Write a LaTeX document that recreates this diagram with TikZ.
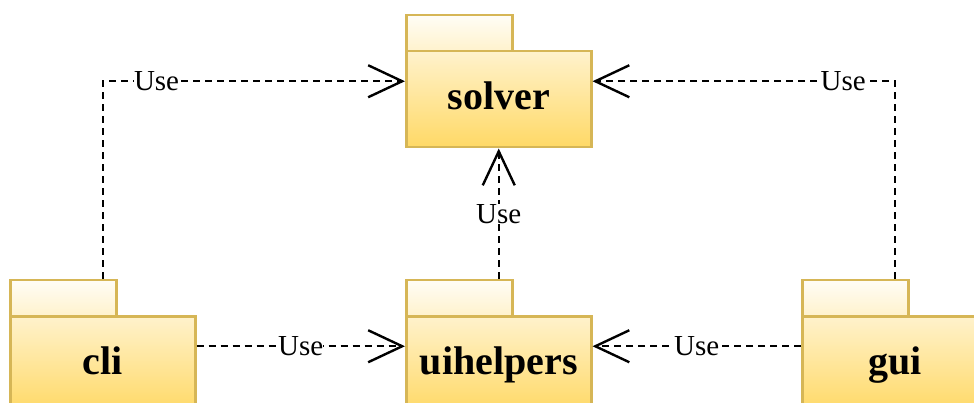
\documentclass[tikz,border=0pt]{standalone}
\usepackage{fontspec}
\setmainfont{Liberation Serif}
\usetikzlibrary{arrows.meta}
\definecolor{pkgstroke}{HTML}{D6B656}
\definecolor{pkgtop}{HTML}{FFF2CC}
\definecolor{pkgbot}{HTML}{FFD966}
\definecolor{tabtop}{HTML}{FFFDF6}
\begin{document}
\begin{tikzpicture}[x=1pt,y=-1pt,
  pkgtab/.style={draw=pkgstroke, line width=2.5pt, top color=tabtop, bottom color=pkgtop,
    minimum width=106pt, minimum height=36pt, inner sep=0pt, anchor=north west},
  pkgbody/.style={draw=pkgstroke, line width=2.5pt, top color=pkgtop, bottom color=pkgbot,
    minimum height=96pt, inner sep=0pt, anchor=north west,
    text height=30pt, text depth=10pt,
    font=\fontsize{40pt}{42pt}\selectfont\bfseries},
  uses/.style={line width=2.4pt, dash pattern=on 7pt off 5pt,
    -{Straight Barb[length=34pt,width=32pt,line width=2.4pt]}},
  lbl/.style={fill=white, inner sep=0pt, font=\fontsize{29pt}{31pt}\selectfont}
]
\useasboundingbox (0,0) rectangle (974,403);
% packages
\node[pkgtab] (solvertab) at (405,14) {};
\node[pkgbody, minimum width=185pt] (solver) at (405,50) {solver};
\node[pkgtab] (clitab) at (9,279) {};
\node[pkgbody, minimum width=185pt] (cli) at (9,315) {cli};
\node[pkgtab] (uihelperstab) at (405,279) {};
\node[pkgbody, minimum width=185pt] (uihelpers) at (405,315) {uihelpers};
\node[pkgtab] (guitab) at (801,279) {};
\node[pkgbody, minimum width=186pt] (gui) at (801,315) {gui};
% connectors
\draw[uses] (cli.north |- clitab.north) |- node[lbl, pos=0.589] {Use} ([yshift=18pt]solver.west);
\draw[uses] (gui.north |- guitab.north) |- node[lbl, pos=0.586] {Use} ([yshift=18pt]solver.east);
\draw[uses] (uihelpers.north |- uihelperstab.north) -- node[lbl] {Use} (uihelpers.north |- solver.south);
\draw[uses] ([yshift=18pt]cli.east) -- node[lbl] {Use} ([yshift=18pt]uihelpers.west);
\draw[uses] ([yshift=18pt]gui.west) -- node[lbl] {Use} ([yshift=18pt]uihelpers.east);
\end{tikzpicture}
\end{document}
